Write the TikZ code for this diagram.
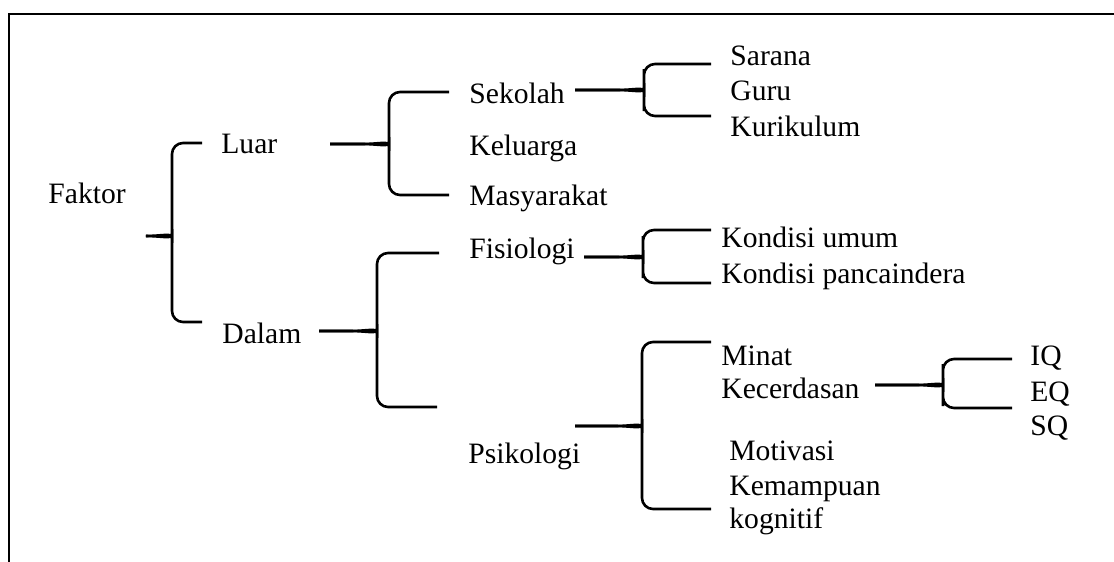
\documentclass[tikz,border=0pt]{standalone}
\usepackage{fontspec}
\setmainfont{Liberation Serif}
\usetikzlibrary{calc}

\begin{document}
\begin{tikzpicture}[
    x=0.5pt, y=-0.5pt,
    item/.style={anchor=base west, inner sep=0pt, font=\fontsize{14.8}{17}\selectfont},
    brace/.style={line width=1.3pt, rounded corners=5.5pt},
    frame/.style={line width=1pt}
]
\useasboundingbox (0,0) rectangle (1114,562);

% Frame (top and left only)
\draw[frame] (9,562) -- (9,13.5) -- (1114,13.5);

% Root and first level
\node[item] (faktor) at (48,203) {Faktor};
\node[item] (luar) at (221,153) {Luar};
\node[item] (dalam) at (222,343) {Dalam};

% Second level
\node[item] (sekolah) at (469,103) {Sekolah};
\node[item] (keluarga) at (469,155) {Keluarga};
\node[item] (masyarakat) at (469,205) {Masyarakat};
\node[item] (fisiologi) at (469,258) {Fisiologi};
\node[item] (psikologi) at (468,463) {Psikologi};

% Third level
\node[item] (sarana) at (730,65) {Sarana};
\node[item] (guru) at (730,100) {Guru};
\node[item] (kurikulum) at (730,136) {Kurikulum};
\node[item] (umum) at (721,247) {Kondisi umum};
\node[item] (panca) at (721,283) {Kondisi pancaindera};
\node[item] (minat) at (721,365) {Minat};
\node[item] (cerdas) at (721,398) {Kecerdasan};
\node[item] (motivasi) at (729,460) {Motivasi};
\node[item] (kemampuan) at (729,495) {Kemampuan};
\node[item] (kognitif) at (729,528) {kognitif};

% Fourth level
\node[item] (iq) at (1030,365) {IQ};
\node[item] (eq) at (1030,401) {EQ};
\node[item] (sq) at (1030,435) {SQ};

% Brace points: s = stem, k = knee, a = top end, b = bottom end
\coordinate (faktor-s) at (147,236);
\coordinate (faktor-k) at (172,236);
\coordinate (faktor-a) at (202,143);
\coordinate (faktor-b) at (202,322);

\coordinate (luar-s) at (330,144);
\coordinate (luar-k) at (389,144);
\coordinate (luar-a) at (449,92);
\coordinate (luar-b) at (449,195);

\coordinate (sekolah-s) at (575,90);
\coordinate (sekolah-k) at (644,90);
\coordinate (sekolah-a) at (711,64);
\coordinate (sekolah-b) at (711,116);

\coordinate (dalam-s) at (319,331);
\coordinate (dalam-k) at (377,331);
\coordinate (dalam-a) at (439,253);
\coordinate (dalam-b) at (437,407);

\coordinate (fisiologi-s) at (584,257);
\coordinate (fisiologi-k) at (643,257);
\coordinate (fisiologi-a) at (711,230);
\coordinate (fisiologi-b) at (711,283);

\coordinate (psikologi-s) at (575,426);
\coordinate (psikologi-k) at (642,426);
\coordinate (psikologi-a) at (711,342);
\coordinate (psikologi-b) at (711,509);

\coordinate (cerdas-s) at (875,385);
\coordinate (cerdas-k) at (943,385);
\coordinate (cerdas-a) at (1012,359);
\coordinate (cerdas-b) at (1012,408);

% Braces
\foreach \br in {faktor, luar, sekolah, dalam, fisiologi, psikologi, cerdas} {
    \draw[brace] (\br-a) -| ($(\br-k)+(0,-10)$) [sharp corners]
        .. controls ($(\br-k)+(0,-3)$) and ($(\br-k)+(-12,0)$) .. ($(\br-k)+(-26,0)$) -- (\br-s);
    \draw[brace] (\br-b) -| ($(\br-k)+(0,10)$) [sharp corners]
        .. controls ($(\br-k)+(0,3)$) and ($(\br-k)+(-12,0)$) .. ($(\br-k)+(-26,0)$) -- (\br-s);
}

\end{tikzpicture}
\end{document}
